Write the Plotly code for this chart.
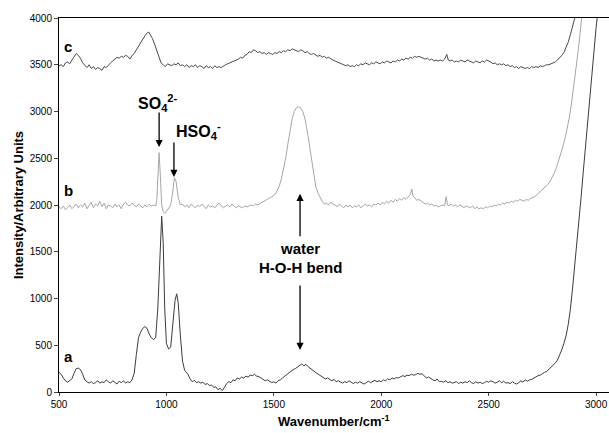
import plotly.graph_objects as go

# ---- data (wavenumber, intensity) ----
curve_a = [(500,210),(510,190),(520,150),(530,120),(540,105),(550,120),(560,140),(570,200),(580,250),(590,255),
(600,240),(610,190),(620,130),(630,110),(640,95),(650,110),(660,90),(670,100),(680,120),(690,95),
(700,110),(710,100),(720,130),(730,110),(740,95),(750,120),(760,100),(770,85),(780,115),(790,100),
(800,120),(810,95),(820,110),(830,100),(840,130),(850,200),(860,400),(870,580),(880,640),(890,680),
(900,700),(910,680),(920,620),(930,580),(940,560),(950,580),(960,900),(970,1500),(978,1880),(985,1600),
(992,900),(1000,520),(1010,460),(1020,480),(1030,700),(1040,980),(1048,1050),(1055,950),(1065,600),(1075,330),
(1085,230),(1100,190),(1110,140),(1120,110),(1130,125),(1140,100),(1150,110),(1160,95),(1170,105),(1180,80),
(1190,90),(1200,70),(1210,75),(1220,50),(1230,55),(1240,25),(1250,40),(1260,15),(1270,50),(1280,90),
(1290,110),(1300,100),(1310,130),(1320,120),(1330,150),(1340,140),(1350,160),(1360,150),(1370,170),(1380,160),
(1390,180),(1400,175),(1410,190),(1420,170),(1430,165),(1440,150),(1450,140),(1460,120),(1470,130),(1480,110),
(1490,100),(1500,110),(1510,95),(1520,120),(1530,130),(1540,150),(1550,170),(1560,180),(1570,200),(1580,220),
(1590,240),(1600,250),(1610,270),(1620,285),(1630,300),(1640,280),(1650,295),(1660,270),(1670,250),(1680,230),
(1690,210),(1700,200),(1710,185),(1720,170),(1730,160),(1740,140),(1750,150),(1760,130),(1770,120),(1780,135),
(1790,110),(1800,120),(1810,105),(1820,95),(1830,110),(1840,100),(1850,120),(1860,100),(1870,90),(1880,105),
(1890,95),(1900,110),(1910,100),(1920,85),(1930,100),(1940,115),(1950,100),(1960,110),(1970,125),(1980,110),
(1990,120),(2000,110),(2010,130),(2020,120),(2030,140),(2040,130),(2050,150),(2060,140),(2070,155),(2080,150),
(2090,160),(2100,175),(2110,165),(2120,180),(2130,175),(2140,190),(2150,180),(2160,185),(2170,200),(2180,190),
(2190,195),(2200,170),(2210,150),(2220,160),(2230,140),(2240,130),(2250,120),(2260,140),(2270,110),(2280,115),
(2290,105),(2300,120),(2310,100),(2320,110),(2330,95),(2340,100),(2350,110),(2360,90),(2370,105),(2380,95),
(2390,110),(2400,100),(2410,120),(2420,100),(2430,90),(2440,110),(2450,95),(2460,105),(2470,90),(2480,100),
(2490,115),(2500,105),(2510,120),(2520,110),(2530,95),(2540,105),(2550,120),(2560,100),(2570,115),(2580,95),
(2590,100),(2600,90),(2610,110),(2620,95),(2630,85),(2640,100),(2650,120),(2660,105),(2670,130),(2680,115),
(2690,130),(2700,135),(2710,150),(2720,160),(2730,175),(2740,180),(2750,200),(2760,210),(2770,220),(2780,240),
(2790,260),(2800,280),(2810,310),(2820,340),(2830,390),(2840,450),(2850,520),(2860,600),(2870,720),(2880,880),
(2890,1100),(2900,1330),(2910,1580),(2920,1820),(2930,2080),(2940,2350),(2950,2620),(2960,2900),(2970,3180),(2980,3450),
(2990,3700),(3000,3900),(3010,4100),(3020,4400)]

curve_b = [(500,1980),(510,1960),(520,1990),(530,1950),(540,1970),(550,2000),(560,1960),(570,1990),(580,2010),(590,1970),
(600,2000),(610,1980),(620,2020),(630,1960),(640,2000),(650,2030),(660,1970),(670,2010),(680,1990),(690,2040),
(700,1980),(710,2020),(720,1960),(730,2000),(740,1990),(750,1970),(760,2010),(770,1980),(780,2000),(790,1960),
(800,2010),(810,2030),(820,2000),(830,1990),(840,2020),(850,2000),(860,1980),(870,2010),(880,1990),(890,1970),
(900,2000),(910,1980),(920,2010),(930,1990),(940,2000),(950,1990),(955,2050),(960,2250),(966,2560),(972,2300),
(978,2000),(985,1930),(993,1910),(1000,1930),(1010,1960),(1020,2000),(1030,2150),(1037,2290),(1045,2250),(1055,2080),
(1065,2000),(1075,2010),(1085,1980),(1095,2000),(1105,1970),(1115,2010),(1125,1990),(1135,1970),(1145,2000),(1155,1980),
(1165,2010),(1175,1990),(1185,1960),(1195,2000),(1205,1980),(1215,1990),(1225,1970),(1235,2000),(1245,2020),(1255,1990),
(1265,1970),(1275,1990),(1285,2000),(1295,1980),(1305,2010),(1315,1990),(1325,1970),(1335,1990),(1345,1980),(1355,1970),
(1365,1990),(1375,1980),(1385,1990),(1395,2000),(1405,1990),(1415,2010),(1425,2000),(1435,2020),(1445,2030),(1455,2040),
(1465,2060),(1475,2070),(1485,2080),(1495,2100),(1505,2110),(1515,2150),(1525,2200),(1535,2280),(1545,2380),(1555,2500),
(1565,2650),(1575,2800),(1585,2920),(1595,3000),(1605,3040),(1615,3050),(1625,3040),(1635,3000),(1645,2920),(1655,2800),
(1665,2650),(1675,2480),(1685,2320),(1695,2200),(1705,2130),(1715,2080),(1725,2040),(1735,2010),(1745,2020),(1755,2000),
(1765,2030),(1775,2010),(1785,2000),(1795,1980),(1805,2010),(1815,1990),(1825,1970),(1835,2000),(1845,1980),(1855,2000),
(1865,1970),(1875,1990),(1885,1980),(1895,2000),(1905,1970),(1915,1990),(1925,2010),(1935,1990),(1945,2000),(1955,1980),
(1965,2010),(1975,2000),(1985,2020),(1995,2000),(2005,2030),(2015,2010),(2025,2040),(2035,2020),(2045,2050),(2055,2030),
(2065,2060),(2075,2040),(2085,2070),(2095,2050),(2105,2080),(2115,2060),(2125,2090),(2135,2110),(2142,2170),(2148,2090),
(2155,2080),(2165,2050),(2175,2060),(2185,2040),(2195,2030),(2205,2010),(2215,2020),(2225,2000),(2235,2010),(2245,1990),
(2255,2000),(2265,1980),(2275,1990),(2285,2000),(2295,1990),(2302,2090),(2308,2000),(2315,1990),(2325,2010),(2335,1990),
(2345,2000),(2355,1980),(2365,2000),(2375,1990),(2385,1970),(2395,1990),(2405,1980),(2415,1970),(2425,1990),(2435,1960),
(2445,1980),(2455,1960),(2465,1970),(2475,1960),(2485,1980),(2495,1970),(2505,1990),(2515,1980),(2525,2000),(2535,1990),
(2545,2010),(2555,2000),(2565,2020),(2575,2010),(2585,2030),(2595,2020),(2605,2040),(2615,2030),(2625,2050),(2635,2040),
(2645,2060),(2655,2050),(2665,2040),(2675,2060),(2685,2050),(2695,2070),(2705,2080),(2715,2090),(2725,2110),(2735,2130),
(2745,2150),(2755,2170),(2765,2190),(2775,2220),(2785,2250),(2795,2290),(2805,2340),(2815,2400),(2825,2470),(2835,2540),
(2845,2620),(2855,2710),(2865,2810),(2875,2930),(2885,3080),(2895,3250),(2905,3430),(2915,3620),(2925,3830),(2935,4050)]

curve_c = [(500,3490),(510,3500),(520,3480),(530,3520),(540,3530),(550,3510),(560,3550),(570,3580),(580,3620),(590,3600),
(600,3570),(610,3520),(620,3490),(630,3470),(640,3500),(650,3460),(660,3480),(670,3450),(680,3470),(690,3460),
(700,3440),(710,3480),(720,3470),(730,3500),(740,3520),(750,3540),(760,3560),(770,3580),(780,3570),(790,3590),
(800,3580),(810,3600),(820,3590),(830,3560),(840,3600),(850,3620),(860,3660),(870,3700),(880,3740),(890,3780),
(900,3810),(910,3840),(918,3850),(925,3820),(935,3780),(945,3720),(955,3650),(965,3580),(975,3520),(985,3500),
(995,3480),(1005,3510),(1015,3500),(1025,3490),(1035,3510),(1045,3500),(1055,3520),(1065,3490),(1075,3500),(1085,3480),
(1095,3500),(1105,3470),(1115,3490),(1125,3480),(1135,3500),(1145,3470),(1155,3490),(1165,3480),(1175,3460),(1185,3490),
(1195,3470),(1205,3480),(1215,3460),(1225,3490),(1235,3470),(1245,3480),(1255,3470),(1265,3490),(1275,3500),(1285,3510),
(1295,3520),(1305,3530),(1315,3540),(1325,3550),(1335,3560),(1345,3580),(1355,3570),(1365,3600),(1375,3610),(1385,3640),
(1395,3630),(1405,3660),(1415,3650),(1425,3630),(1435,3640),(1445,3620),(1455,3630),(1465,3610),(1475,3630),(1485,3620),
(1495,3610),(1505,3630),(1515,3620),(1525,3640),(1535,3630),(1545,3650),(1555,3640),(1565,3660),(1575,3650),(1585,3670),
(1595,3660),(1605,3650),(1615,3640),(1625,3660),(1635,3650),(1645,3630),(1655,3640),(1665,3620),(1675,3610),(1685,3620),
(1695,3600),(1705,3590),(1715,3600),(1725,3580),(1735,3590),(1745,3570),(1755,3580),(1765,3560),(1775,3550),(1785,3540),
(1795,3530),(1805,3520),(1815,3510),(1825,3500),(1835,3490),(1845,3500),(1855,3480),(1865,3490),(1875,3480),(1885,3500),
(1895,3490),(1905,3510),(1915,3500),(1925,3520),(1935,3510),(1945,3500),(1955,3520),(1965,3510),(1975,3530),(1985,3520),
(1995,3510),(2005,3530),(2015,3520),(2025,3540),(2035,3530),(2045,3520),(2055,3540),(2065,3530),(2075,3550),(2085,3540),
(2095,3560),(2105,3550),(2115,3570),(2125,3560),(2135,3580),(2145,3570),(2155,3590),(2165,3580),(2175,3590),(2185,3580),
(2195,3570),(2205,3560),(2215,3570),(2225,3550),(2235,3560),(2245,3540),(2255,3550),(2265,3540),(2275,3550),(2285,3540),
(2295,3560),(2305,3610),(2312,3550),(2320,3540),(2330,3550),(2340,3530),(2350,3540),(2360,3530),(2370,3550),(2380,3540),
(2390,3530),(2400,3550),(2410,3540),(2420,3530),(2430,3520),(2440,3540),(2450,3530),(2460,3520),(2470,3540),(2480,3530),
(2490,3550),(2500,3540),(2510,3530),(2520,3510),(2530,3520),(2540,3500),(2550,3510),(2560,3500),(2570,3510),(2580,3490),
(2590,3500),(2600,3480),(2610,3490),(2620,3470),(2630,3480),(2640,3460),(2650,3480),(2660,3470),(2670,3460),(2680,3470),
(2690,3460),(2700,3480),(2710,3470),(2720,3480),(2730,3470),(2740,3490),(2750,3480),(2760,3490),(2770,3500),(2780,3500),
(2790,3510),(2800,3520),(2810,3530),(2820,3550),(2830,3570),(2840,3600),(2850,3630),(2860,3680),(2870,3740),(2880,3820),
(2890,3910),(2900,3990),(2910,4080)]

x_ticks = [500, 1000, 1500, 2000, 2500, 3000]
y_ticks = [0, 500, 1000, 1500, 2000, 2500, 3000, 3500, 4000]

FONT = "Liberation Sans, Arial, sans-serif"

fig = go.Figure()
for data, color in [(curve_a, "#3c3c3c"), (curve_b, "#a6a6a6"), (curve_c, "#4a4a4a")]:
    xs, ys = zip(*data)
    fig.add_trace(go.Scatter(x=list(xs), y=list(ys), mode="lines",
                             line=dict(color=color, width=1), showlegend=False,
                             hoverinfo="skip"))

ann = []
# series letters
for txt, yv in [("c", 3700), ("b", 2160), ("a", 385)]:
    ann.append(dict(x=542, y=yv, text="<b>" + txt + "</b>", showarrow=False,
                    font=dict(family=FONT, size=15, color="black"), xanchor="center", yanchor="middle"))
# peak labels
ann.append(dict(x=961, y=3091, text="<b>SO<sub>4</sub><sup>2-</sup></b>", showarrow=False,
                font=dict(family=FONT, size=16, color="black"), xanchor="center", yanchor="middle"))
ann.append(dict(x=1147, y=2790, text="<b>HSO<sub>4</sub><sup>-</sup></b>", showarrow=False,
                font=dict(family=FONT, size=16, color="black"), xanchor="center", yanchor="middle"))
ann.append(dict(x=1622, y=1540, text="<b>water</b>", showarrow=False,
                font=dict(family=FONT, size=15, color="black"), xanchor="center", yanchor="middle"))
ann.append(dict(x=1622, y=1330, text="<b>H-O-H bend</b>", showarrow=False,
                font=dict(family=FONT, size=15, color="black"), xanchor="center", yanchor="middle"))
# arrows
for (xv, yv, ay) in [(966, 2620, -36), (1035, 2300, -36), (1622, 2120, 44), (1622, 450, -66)]:
    ann.append(dict(x=xv, y=yv, ax=0, ay=ay, text="", showarrow=True,
                    arrowhead=2, arrowsize=1.1, arrowwidth=1.3, arrowcolor="black"))
# axis titles
ann.append(dict(xref="paper", yref="paper", x=0.5, y=-0.077, yanchor="middle",
                text="<b>Wavenumber/cm<sup>-1</sup></b>", showarrow=False,
                font=dict(family=FONT, size=13, color="black")))
ann.append(dict(xref="paper", yref="paper", x=-0.0745, xanchor="center", y=0.5,
                text="<b>Intensity/Arbitrary Units</b>", textangle=-90, showarrow=False,
                font=dict(family=FONT, size=13, color="black")))

fig.update_layout(
    width=609, height=433,
    margin=dict(l=59, r=0, t=18, b=41),
    paper_bgcolor="white", plot_bgcolor="white",
    annotations=ann,
    xaxis=dict(range=[500, 3060], tickvals=x_ticks, ticks="outside", ticklen=3,
               showline=True, linecolor="black", linewidth=1, mirror=True,
               showgrid=False, zeroline=False,
               tickfont=dict(family=FONT, size=10, color="black")),
    yaxis=dict(range=[0, 4000], tickvals=y_ticks, ticks="outside", ticklen=4,
               showline=True, linecolor="black", linewidth=1,
               showgrid=False, zeroline=False,
               tickfont=dict(family=FONT, size=10, color="black")),
)

fig.write_html("out.html")
